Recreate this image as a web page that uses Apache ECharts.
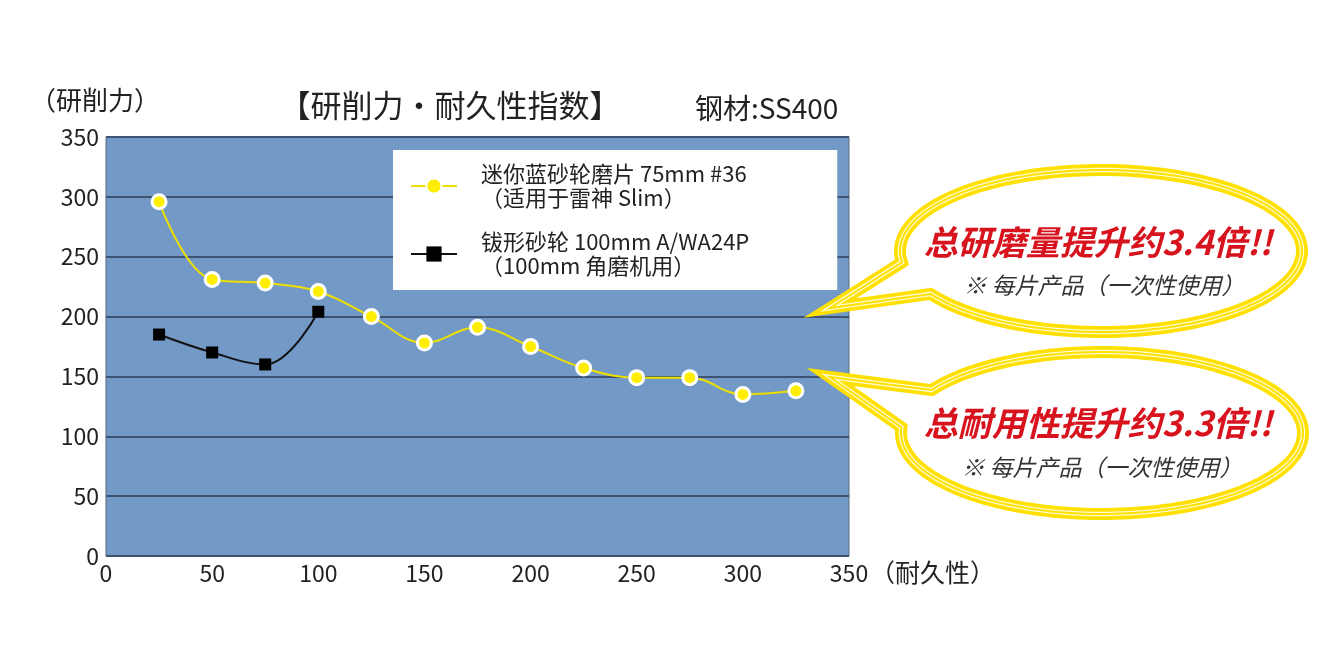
<!DOCTYPE html>
<html><head><meta charset="utf-8">
<script src="https://cdn.jsdelivr.net/npm/echarts@6/dist/echarts.min.js"></script>
<style>html,body{margin:0;padding:0;background:#fff}#c{width:1320px;height:660px}</style>
</head><body><div id="c"></div>
<script>
const xValues = [25, 50, 75, 100, 125, 150, 175, 200, 225, 250, 275, 300, 325];
const miniBlue = [296, 231, 228, 221, 200, 178, 191, 175, 157, 149, 149, 135, 138];
const cupWheelX = [25, 50, 75, 100];
const cupWheel = [185, 170, 160, 204];
const seriesNames = ['迷你蓝砂轮磨片 75mm #36\n（适用于雷神 Slim）', '钹形砂轮 100mm A/WA24P\n（100mm 角磨机用）'];
const yTicks = [0, 50, 100, 150, 200, 250, 300, 350];
const xTicks = [0, 50, 100, 150, 200, 250, 300, 350];
const titleText = '【研削力・耐久性指数】';
const steelText = '钢材:SS400';
const yName = '（研削力）';
const xName = '（耐久性）';
const callouts = [
  { main: '总研磨量提升约3.4倍!!', sub: '※ 每片产品（一次性使用）' },
  { main: '总耐用性提升约3.3倍!!', sub: '※ 每片产品（一次性使用）' }
];

const FONT = '"Noto Sans CJK SC", "Noto Sans", sans-serif';
const chart = echarts.init(document.getElementById('c'));

function bubblePoints(cx, cy, rx, ry, a1, a2, tip) {
  const pts = [tip];
  const n = 160;
  for (let i = 0; i <= n; i++) {
    const t = (a1 + (a2 - a1) * i / n) * Math.PI / 180;
    pts.push([cx + rx * Math.cos(t), cy + ry * Math.sin(t)]);
  }
  return pts;
}
function bubble(cx, cy, rx, ry, a1, a2, tip) {
  const pts = bubblePoints(cx, cy, rx, ry, a1, a2, tip);
  return [
    { type: 'polygon', z: 100, shape: { points: pts }, style: { fill: '#fff', stroke: '#ffe000', lineWidth: 12, lineJoin: 'miter' } },
    { type: 'polygon', z: 101, shape: { points: pts }, style: { fill: 'none', stroke: '#fffbd0', lineWidth: 4.5, lineJoin: 'miter' } },
    { type: 'polygon', z: 102, shape: { points: pts }, style: { fill: 'none', stroke: '#ffe000', lineWidth: 2, lineJoin: 'miter' } }
  ];
}

const graphics = [].concat(
  bubble(1101, 251, 201, 81, 172, 508, [830, 308]),
  bubble(1102, 433, 201, 81, 212, 544, [830, 377]),
  [
    { type: 'text', z: 110, x: 1098, y: 242, style: { text: callouts[0].main, fill: '#d7141e', font: 'italic bold 34px ' + FONT, textAlign: 'center', textVerticalAlign: 'middle' } },
    { type: 'text', z: 110, x: 1104, y: 285, style: { text: callouts[0].sub, fill: '#333', font: 'italic 23px ' + FONT, textAlign: 'center', textVerticalAlign: 'middle' } },
    { type: 'text', z: 110, x: 1098, y: 423, style: { text: callouts[1].main, fill: '#d7141e', font: 'italic bold 34px ' + FONT, textAlign: 'center', textVerticalAlign: 'middle' } },
    { type: 'text', z: 110, x: 1102, y: 467, style: { text: callouts[1].sub, fill: '#333', font: 'italic 23px ' + FONT, textAlign: 'center', textVerticalAlign: 'middle' } },
    { type: 'text', x: 450, y: 105, style: { text: titleText, fill: '#222', font: '31px ' + FONT, textAlign: 'center', textVerticalAlign: 'middle' } },
    { type: 'text', x: 695, y: 108, style: { text: steelText, fill: '#222', font: '28px ' + FONT, textAlign: 'left', textVerticalAlign: 'middle' } },
    { type: 'text', x: 95, y: 100, style: { text: yName, fill: '#222', font: '26px ' + FONT, textAlign: 'center', textVerticalAlign: 'middle' } },
    { type: 'text', x: 870, y: 572, style: { text: xName, fill: '#222', font: '25px ' + FONT, textAlign: 'left', textVerticalAlign: 'middle' } }
  ]
);

chart.setOption({
  animation: false,
  grid: { left: 106, top: 137, right: 471, bottom: 104, show: true, backgroundColor: '#7399c6', borderColor: '#5d6c80', borderWidth: 1 },
  legend: {
    orient: 'vertical', left: 393, top: 150,
    backgroundColor: '#fff', padding: [12, 88, 12, 17], itemGap: 20,
    itemWidth: 46, itemHeight: 19,
    textStyle: { fontFamily: FONT, fontSize: 22, color: '#222', lineHeight: 24, padding: [0, 0, 0, 19] },
    data: seriesNames
  },
  xAxis: {
    type: 'value', min: 0, max: 350, interval: 50,
    axisLine: { show: false }, axisTick: { show: false }, splitLine: { show: false },
    axisLabel: { fontFamily: FONT, fontSize: 23, color: '#222', margin: 6, formatter: v => xTicks.includes(v) ? String(v) : '' }
  },
  yAxis: {
    type: 'value', min: 0, max: 350, interval: 50,
    axisLine: { show: false }, axisTick: { show: false },
    splitLine: { lineStyle: { color: '#3d5371', width: 2 } },
    axisLabel: { fontFamily: FONT, fontSize: 23, color: '#222', margin: 7, formatter: v => yTicks.includes(v) ? String(v) : '' }
  },
  series: [
    {
      name: seriesNames[0], type: 'line', smooth: 0.4,
      data: xValues.map((x, i) => [x, miniBlue[i]]),
      lineStyle: { color: '#ede000', width: 2 },
      itemStyle: { color: '#ffee00', borderColor: '#fff', borderWidth: 3 },
      symbol: 'circle', symbolSize: 14, z: 3
    },
    {
      name: seriesNames[1], type: 'line', smooth: 0.4,
      data: cupWheelX.map((x, i) => [x, cupWheel[i]]),
      lineStyle: { color: '#111', width: 2 },
      itemStyle: { color: '#000' },
      symbol: 'rect', symbolSize: 12, z: 2
    }
  ],
  graphic: graphics
});
</script></body></html>
